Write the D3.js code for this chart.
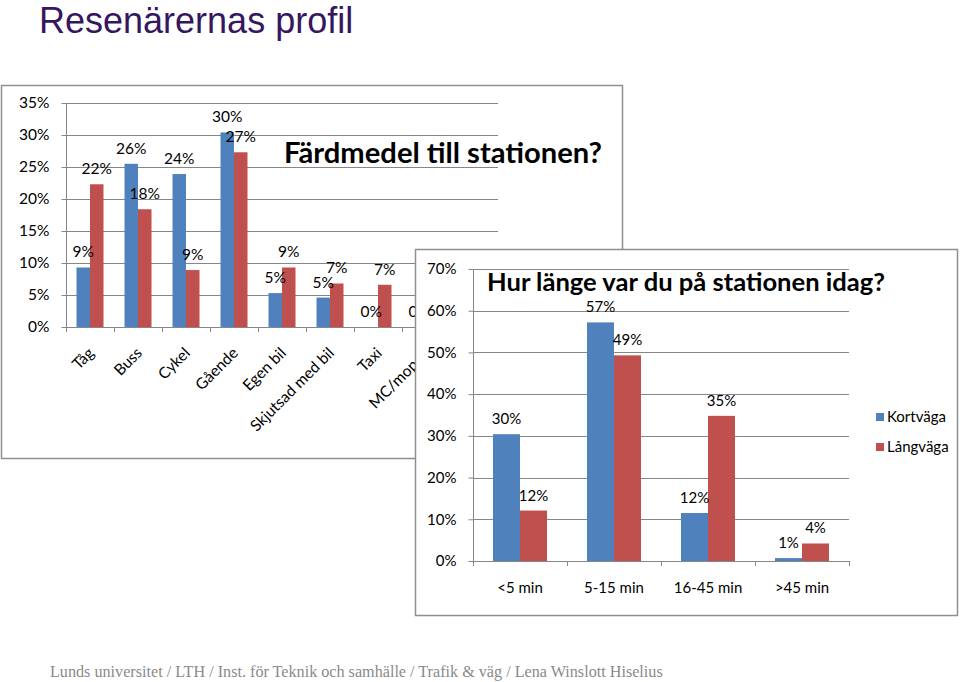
<!DOCTYPE html>
<html>
<head>
<meta charset="utf-8">
<script src="https://cdn.jsdelivr.net/npm/d3@7"></script>
<style>
html,body{margin:0;padding:0;background:#fff;}
svg{display:block;}
</style>
</head>
<body>
<script>
// ---------- DATA ----------
const pageTitle = "Resenärernas profil";
const footerText = "Lunds universitet / LTH / Inst. för Teknik och samhälle / Trafik & väg / Lena Winslott Hiselius";

const modeTitle = "Färdmedel till stationen?";
const modeCategories = ["Tåg","Buss","Cykel","Gående","Egen bil","Skjutsad med bil","Taxi","MC/moped","Annat"];
const modeShort = [0.093, 0.255, 0.239, 0.304, 0.053, 0.046, 0.0, 0.0, 0.01];
const modeLong  = [0.223, 0.184, 0.089, 0.273, 0.093, 0.068, 0.066, 0.01, 0.02];
const modeTicks = [0, 0.05, 0.10, 0.15, 0.20, 0.25, 0.30, 0.35];

const stayTitle = "Hur länge var du på stationen idag?";
const stayCategories = ["<5 min","5-15 min","16-45 min",">45 min"];
const stayShort = [0.304, 0.572, 0.115, 0.007];
const stayLong  = [0.121, 0.493, 0.348, 0.042];
const stayTicks = [0, 0.1, 0.2, 0.3, 0.4, 0.5, 0.6, 0.7];

const seriesNames = ["Kortväga","Långväga"];
const seriesColors = ["#4F81BD","#C0504D"];

// ---------- SETUP ----------
const W = 960, H = 682;
const svg = d3.select("body").append("svg").attr("width", W).attr("height", H);
svg.append("rect").attr("width", W).attr("height", H).attr("fill", "#fff");

const FONT = "Lato, 'Open Sans', sans-serif";
const GRID = "#868686";
const BORDER = "#8f8f8f";
const pct = d3.format(".0%");

function fitText(sel, target) {
  const node = sel.node();
  const size = parseFloat(sel.attr("font-size"));
  const len = node.getComputedTextLength();
  if (len > 0) sel.attr("font-size", (size * target / len).toFixed(2));
}

// Page title
svg.append("text").attr("x", 39).attr("y", 33)
  .attr("font-family", "'Liberation Sans', Arial, sans-serif")
  .attr("font-size", 36).attr("fill", "#35165f")
  .text(pageTitle);

// generic grouped bar chart
function drawChart(g, opt) {
  const x = d3.scaleBand().domain(opt.categories).range([opt.x0, opt.x1]).padding(0);
  const bw = x.bandwidth();
  const inner = d3.scaleBand().domain([0, 1]).range([0, bw])
    .paddingInner(0).paddingOuter((bw - opt.groupW) / 2 / (opt.groupW / 2));
  const y = d3.scaleLinear().domain([0, opt.max]).range([opt.y0, opt.yTop]);

  // gridlines
  g.append("g").selectAll("line").data(opt.ticks.filter(t => t > 0)).join("line")
    .attr("x1", opt.x0).attr("x2", opt.x1)
    .attr("y1", d => Math.round(y(d)) + 0.5).attr("y2", d => Math.round(y(d)) + 0.5)
    .attr("stroke", GRID).attr("stroke-width", 1);

  // y axis
  const ya = d3.axisLeft(y).tickValues(opt.ticks).tickFormat(pct).tickSize(5).tickPadding(opt.tickPad);
  const yg = g.append("g").attr("transform", `translate(${opt.x0 + 0.5},0)`).call(ya);
  yg.select(".domain").attr("stroke", GRID).attr("d", `M0,${opt.y0}V${opt.yTop}`);
  yg.selectAll(".tick line").attr("stroke", GRID);
  yg.selectAll(".tick text").attr("font-family", FONT).attr("font-size", opt.tickFont).attr("fill", "#000");

  // bars
  const data = [];
  opt.categories.forEach((c, i) => {
    opt.series.forEach((s, j) => data.push({c, j, v: s[i]}));
  });
  g.append("g").selectAll("rect").data(data).join("rect")
    .attr("x", d => x(d.c) + inner(d.j))
    .attr("width", inner.bandwidth())
    .attr("y", d => y(d.v))
    .attr("height", d => opt.y0 - y(d.v))
    .attr("fill", d => seriesColors[d.j]);

  // x axis baseline and tick marks
  const xa = g.append("g");
  xa.append("line").attr("x1", opt.x0).attr("x2", opt.x1)
    .attr("y1", opt.y0 + 0.5).attr("y2", opt.y0 + 0.5).attr("stroke", GRID);
  const bounds = opt.categories.map(c => x(c)).concat([opt.x1]);
  xa.selectAll("line.tk").data(bounds).join("line").attr("class", "tk")
    .attr("x1", d => Math.round(d) + 0.5).attr("x2", d => Math.round(d) + 0.5)
    .attr("y1", opt.y0).attr("y2", opt.y0 + 5).attr("stroke", GRID);

  // data labels (only those not hidden behind an overlapping panel)
  const lx = d => x(d.c) + inner(d.j) + inner.bandwidth() / 2;
  g.append("g").selectAll("text").data(data.filter(d => lx(d) < opt.labelMaxX)).join("text")
    .attr("x", lx)
    .attr("y", d => y(d.v) - opt.labelGap)
    .attr("text-anchor", "middle")
    .attr("font-family", FONT).attr("font-size", opt.labelFont).attr("fill", "#000")
    .text(d => pct(d.v));

  return x;
}

// ---------- LEFT CHART ----------
const left = svg.append("g");
left.append("rect").attr("x", 1.5).attr("y", 85.5).attr("width", 621).attr("height", 373)
  .attr("fill", "#fff").attr("stroke", BORDER).attr("stroke-width", 1.5);
const xL = drawChart(left, {
  categories: modeCategories, series: [modeShort, modeLong],
  x0: 66, x1: 498, y0: 327, yTop: 103, max: 0.35, ticks: modeTicks,
  groupW: 27, tickFont: 15.5, tickPad: 12, labelFont: 15.5, labelGap: 10, labelMaxX: 422
});
left.append("g").selectAll("text")
  .data(modeCategories.filter(d => xL(d) + xL.bandwidth() / 2 < 440)).join("text")
  .attr("transform", d => `translate(${xL(d) + xL.bandwidth() / 2 + 5},354) rotate(-45)`)
  .attr("text-anchor", "end")
  .attr("font-family", FONT).attr("font-size", 15.5).attr("fill", "#000")
  .text(d => d);
const t1 = left.append("text").attr("x", 443).attr("y", 163).attr("text-anchor", "middle")
  .attr("font-family", FONT).attr("font-weight", "bold").attr("font-size", 24).attr("fill", "#000")
  .text(modeTitle);
fitText(t1, 318);

// ---------- RIGHT CHART ----------
const right = svg.append("g");
right.append("rect").attr("x", 415.5).attr("y", 249.5).attr("width", 542).attr("height", 366)
  .attr("fill", "#fff").attr("stroke", BORDER).attr("stroke-width", 1.5);
const xR = drawChart(right, {
  categories: stayCategories, series: [stayShort, stayLong],
  x0: 473, x1: 849, y0: 561, yTop: 269, max: 0.7, ticks: stayTicks,
  groupW: 54, tickFont: 15, tickPad: 12, labelFont: 15, labelGap: 10, labelMaxX: 9999
});
right.append("g").selectAll("text").data(stayCategories).join("text")
  .attr("x", d => xR(d) + xR.bandwidth() / 2).attr("y", 593)
  .attr("text-anchor", "middle")
  .attr("font-family", FONT).attr("font-size", 15).attr("fill", "#000")
  .text(d => d);
const t2 = right.append("text").attr("x", 686).attr("y", 291).attr("text-anchor", "middle")
  .attr("font-family", FONT).attr("font-weight", "bold").attr("font-size", 24).attr("fill", "#000")
  .text(stayTitle);
fitText(t2, 398);

// legend
const lg = right.append("g").selectAll("g").data(seriesNames).join("g")
  .attr("transform", (d, i) => `translate(876,${413 + i * 30})`);
lg.append("rect").attr("width", 8).attr("height", 8).attr("fill", (d, i) => seriesColors[i]);
lg.append("text").attr("x", 11).attr("y", 4).attr("dy", "0.35em")
  .attr("font-family", FONT).attr("font-size", 15).attr("fill", "#000")
  .text(d => d);

// ---------- FOOTER ----------
const ft = svg.append("text").attr("x", 50).attr("y", 677)
  .attr("font-family", "'Liberation Serif', 'Times New Roman', serif")
  .attr("font-size", 17).attr("fill", "#8a8a8a")
  .text(footerText);
fitText(ft, 613);
</script>
</body>
</html>
